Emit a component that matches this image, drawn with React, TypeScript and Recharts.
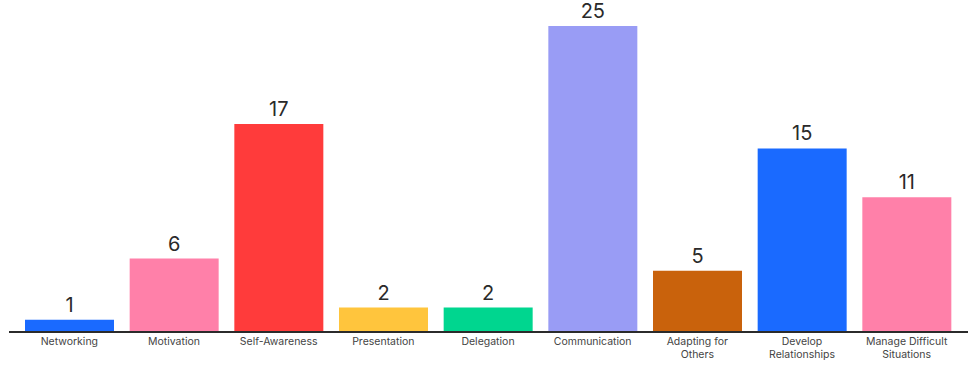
import React from 'react';
import { BarChart, Bar, XAxis, YAxis, Cell, LabelList } from 'recharts';

const categories = [
  'Networking',
  'Motivation',
  'Self-Awareness',
  'Presentation',
  'Delegation',
  'Communication',
  'Adapting for Others',
  'Develop Relationships',
  'Manage Difficult Situations',
];
const tickLines: string[][] = [
  ['Networking'],
  ['Motivation'],
  ['Self-Awareness'],
  ['Presentation'],
  ['Delegation'],
  ['Communication'],
  ['Adapting for', 'Others'],
  ['Develop', 'Relationships'],
  ['Manage Difficult', 'Situations'],
];
const values = [1, 6, 17, 2, 2, 25, 5, 15, 11];
const colors = ['#1a6aff', '#ff80a9', '#ff3b3b', '#ffc53d', '#00d68f', '#999cf5', '#c9620c', '#1a6aff', '#ff80a9'];

const data = categories.map((c, i) => ({ name: c, value: values[i], idx: i }));

const FONT = 'Inter, "Noto Sans", sans-serif';

const CategoryTick = (props: any) => {
  const { x, y, payload } = props;
  const lines = tickLines[payload.index] || [payload.value];
  return (
    <g transform={`translate(${x},${y})`}>
      {lines.map((l, i) => (
        <text
          key={i}
          x={0}
          y={5 + i * 12.5}
          textAnchor="middle"
          fontSize={10.5}
          fontFamily={FONT}
          fill="#444"
        >
          {l}
        </text>
      ))}
    </g>
  );
};

export default function App() {
  return (
    <div style={{ position: 'absolute', left: 0, top: 0, width: 977, height: 387, background: '#fff' }}>
      <BarChart
        width={977}
        height={387}
        data={data}
        margin={{ top: 26, right: 9, bottom: 0, left: 9 }}
        barCategoryGap={8}
      >
        <XAxis
          dataKey="name"
          height={55}
          interval={0}
          tickLine={false}
          axisLine={{ stroke: '#2b2b2b', strokeWidth: 2 }}
          padding={{ left: 8, right: 9 }}
          tick={<CategoryTick />}
        />
        <YAxis hide domain={[0, 25]} />
        <Bar dataKey="value" isAnimationActive={false}>
          {data.map((d, i) => (
            <Cell key={i} fill={colors[i]} />
          ))}
          <LabelList
            dataKey="value"
            position="top"
            offset={8}
            fontSize={20}
            fontFamily={FONT}
            fill="#2a2a2a"
          />
        </Bar>
      </BarChart>
    </div>
  );
}
